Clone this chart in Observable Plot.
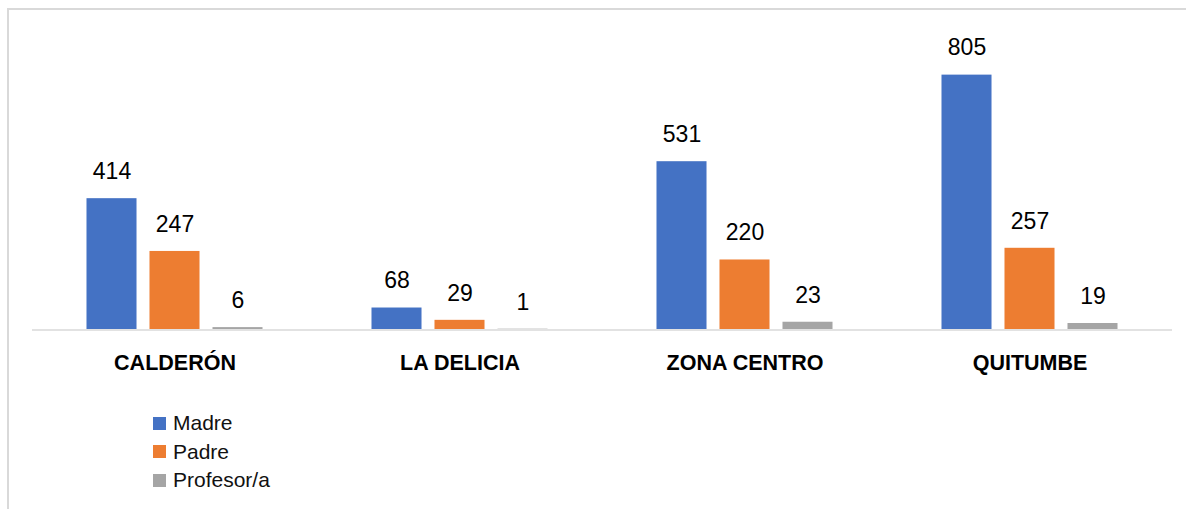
<!DOCTYPE html>
<html>
<head>
<meta charset="utf-8">
<script src="https://cdn.jsdelivr.net/npm/d3@7"></script>
<script src="https://cdn.jsdelivr.net/npm/@observablehq/plot@0.6"></script>
<style>
  html, body { margin: 0; padding: 0; background: #fff; overflow: hidden; width: 1186px; height: 509px; }
  #wrap { position: relative; width: 1186px; height: 509px; }
  #frame { position: absolute; left: 7px; top: 8px; width: 1300px; height: 600px; border-left: 2px solid #d9d9d9; border-top: 2px solid #d9d9d9; box-sizing: border-box; }
  #chart { position: absolute; left: 0; top: 0; }
  #legend { position: absolute; left: 153px; top: 409px; font-family: "Liberation Sans", Arial, sans-serif; font-size: 21px; color: #111; }
  .item { display: flex; align-items: center; height: 28.5px; }
  .sw { width: 13px; height: 13px; margin-right: 7px; }
</style>
</head>
<body>
<div id="wrap">
  <div id="frame"></div>
  <div id="chart"></div>
  <div id="legend"></div>
</div>
<script>
const categories = ["CALDERÓN", "LA DELICIA", "ZONA CENTRO", "QUITUMBE"];
const series = ["Madre", "Padre", "Profesor/a"];
const madre = [414, 68, 531, 805];
const padre = [247, 29, 220, 257];
const profesor = [6, 1, 23, 19];
const colors = ["#4472C4", "#ED7D31", "#A5A5A5"];

const values = [madre, padre, profesor];
const data = [];
categories.forEach((c, i) => {
  series.forEach((s, j) => data.push({category: c, series: s, value: values[j][i]}));
});

const plot = Plot.plot({
  width: 1186,
  height: 380,
  marginLeft: 32,
  marginRight: 14,
  marginTop: 13,
  marginBottom: 51,
  style: {background: "transparent", fontFamily: "'Liberation Sans', Arial, sans-serif"},
  fx: {domain: categories, padding: 0, round: false, axis: null},
  x: {domain: series, paddingInner: 0.206, paddingOuter: 0.865, round: false, axis: null},
  y: {domain: [0, 1000], axis: null},
  color: {domain: series, range: colors},
  marks: [
    Plot.ruleY(categories.map(c => ({category: c, base: 0})), {fx: "category", y: "base", stroke: "#d9d9d9", strokeWidth: 1.5, dy: 0.5}),
    Plot.barY(data, {fx: "category", x: "series", y: "value", fill: "series"}),
    Plot.text(data, {fx: "category", x: "series", y: "value", text: d => String(d.value), dy: -27, lineAnchor: "middle", fontSize: 23, fill: "#000"}),
    Plot.text(categories, {fx: d => d, frameAnchor: "bottom", dy: 34, lineAnchor: "middle", text: d => d, fontSize: 21.5, fontWeight: "bold", fill: "#000"})
  ]
});
document.getElementById("chart").appendChild(plot);

const legend = document.getElementById("legend");
series.forEach((s, j) => {
  const item = document.createElement("div");
  item.className = "item";
  const sw = document.createElement("span");
  sw.className = "sw";
  sw.style.background = colors[j];
  const label = document.createElement("span");
  label.textContent = s;
  item.appendChild(sw);
  item.appendChild(label);
  legend.appendChild(item);
});
</script>
</body>
</html>
